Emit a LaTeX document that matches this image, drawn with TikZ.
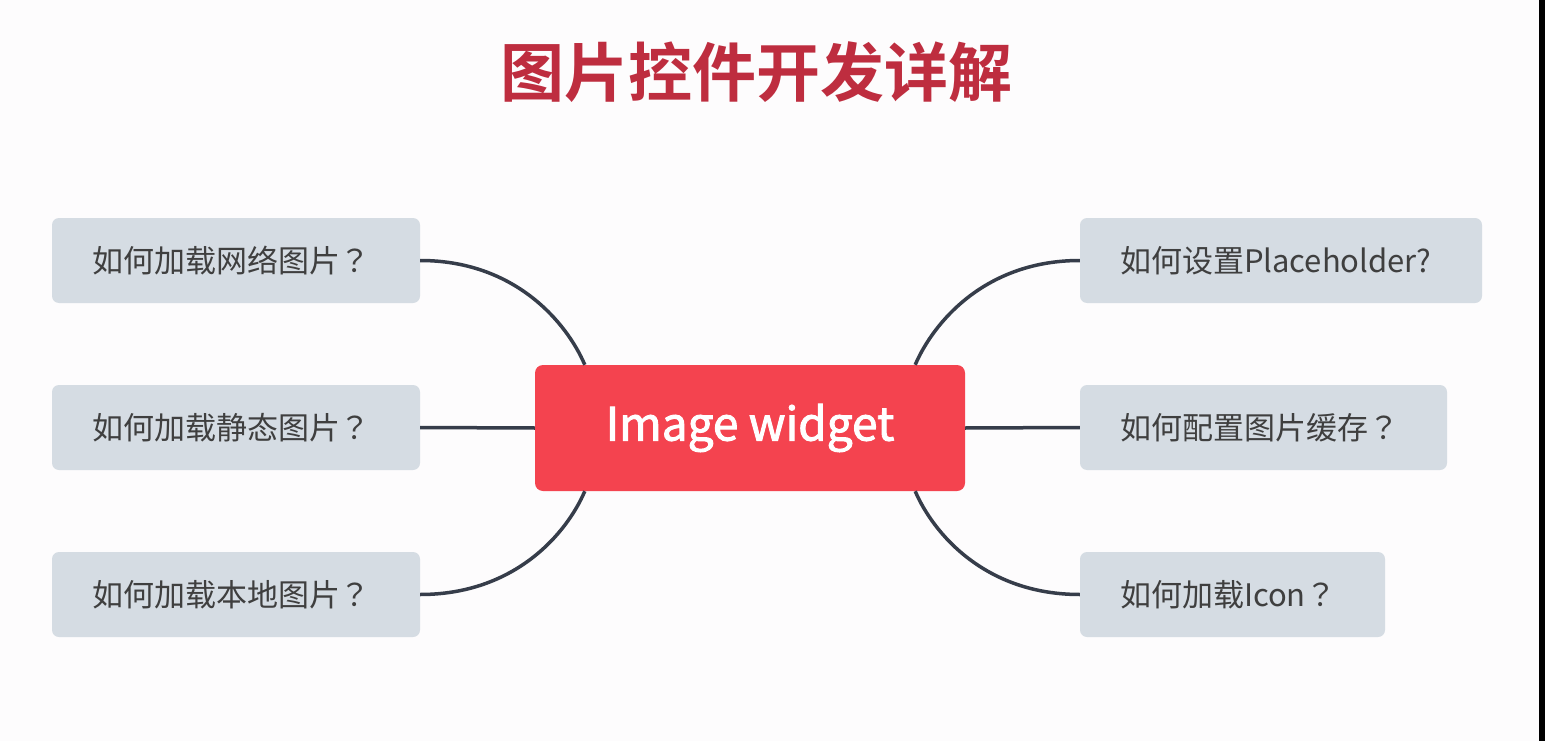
\documentclass[tikz,border=0pt]{standalone}
\usepackage{fontspec}
\setmainfont{Noto Sans CJK SC}
\newfontfamily\cjk{Noto Sans CJK SC}
\newfontfamily\cjkjp{Noto Sans CJK JP}
\newfontfamily\cjkmed{Noto Sans CJK SC}[FakeBold=2]
\newfontfamily\cjkbold{Noto Sans CJK SC Bold}
\newcommand{\fwq}{{\cjkjp ？}}
\usetikzlibrary{calc}
\definecolor{bgc}{HTML}{FDFCFD}
\definecolor{titlered}{HTML}{BE2D3F}
\definecolor{centerred}{HTML}{F4434F}
\definecolor{boxgray}{HTML}{D5DCE3}
\definecolor{txtgray}{HTML}{3F3F3F}
\definecolor{linec}{HTML}{363D4A}
\tikzset{
  topic/.style={fill=boxgray, rounded corners=7pt, inner xsep=40pt, inner ysep=0pt,
    minimum height=85pt, align=left, text=txtgray,
    font=\cjk\fontsize{31}{36}\selectfont},
  centre/.style={fill=centerred, rounded corners=8pt, minimum width=430pt,
    minimum height=126pt, text=white, font=\cjkmed\fontsize{46}{54}\selectfont},
  conn/.style={draw=linec, line width=3.5pt},
  ttl/.style={text=titlered, font=\cjkbold\fontsize{64}{70}\selectfont}
}
\begin{document}
\begin{tikzpicture}[x=1pt,y=-1pt]
\fill[bgc] (0,0) rectangle (1545,741);
\useasboundingbox (0,0) rectangle (1545,741);
\fill[black] (1539,0) rectangle (1545,741);

\node[ttl] (title) at (756,72) {图片控件开发详解};

\node[centre] (c) at (750,428) {Image widget};

\node[topic, text width=288pt] (l1) at (236,260.5) {如何加载网络图片\fwq};
\node[topic, text width=288pt] (l2) at (236,427.5) {如何加载静态图片\fwq};
\node[topic, text width=288pt] (l3) at (236,594.5) {如何加载本地图片\fwq};

\node[topic, text width=322pt] (r1) at (1281,260.5) {如何设置Placeholder?};
\node[topic, text width=287pt] (r2) at (1263.5,427.5) {如何配置图片缓存\fwq};
\node[topic, text width=225pt] (r3) at (1232.5,594.5) {如何加载Icon\fwq};

\coordinate (cnw) at ($(c.north west)+(50,0)$);
\coordinate (cne) at ($(c.north east)+(-50,0)$);
\coordinate (csw) at ($(c.south west)+(50,0)$);
\coordinate (cse) at ($(c.south east)+(-50,0)$);

\draw[conn] (l1.east) .. controls +(95,0) and +(-18,-42) .. (cnw);
\draw[conn] (l2.east) -- (c.west);
\draw[conn] (l3.east) .. controls +(95,0) and +(-18,42) .. (csw);
\draw[conn] (r1.west) .. controls +(-95,0) and +(18,-42) .. (cne);
\draw[conn] (r2.west) -- (c.east);
\draw[conn] (r3.west) .. controls +(-95,0) and +(18,42) .. (cse);
\end{tikzpicture}
\end{document}
